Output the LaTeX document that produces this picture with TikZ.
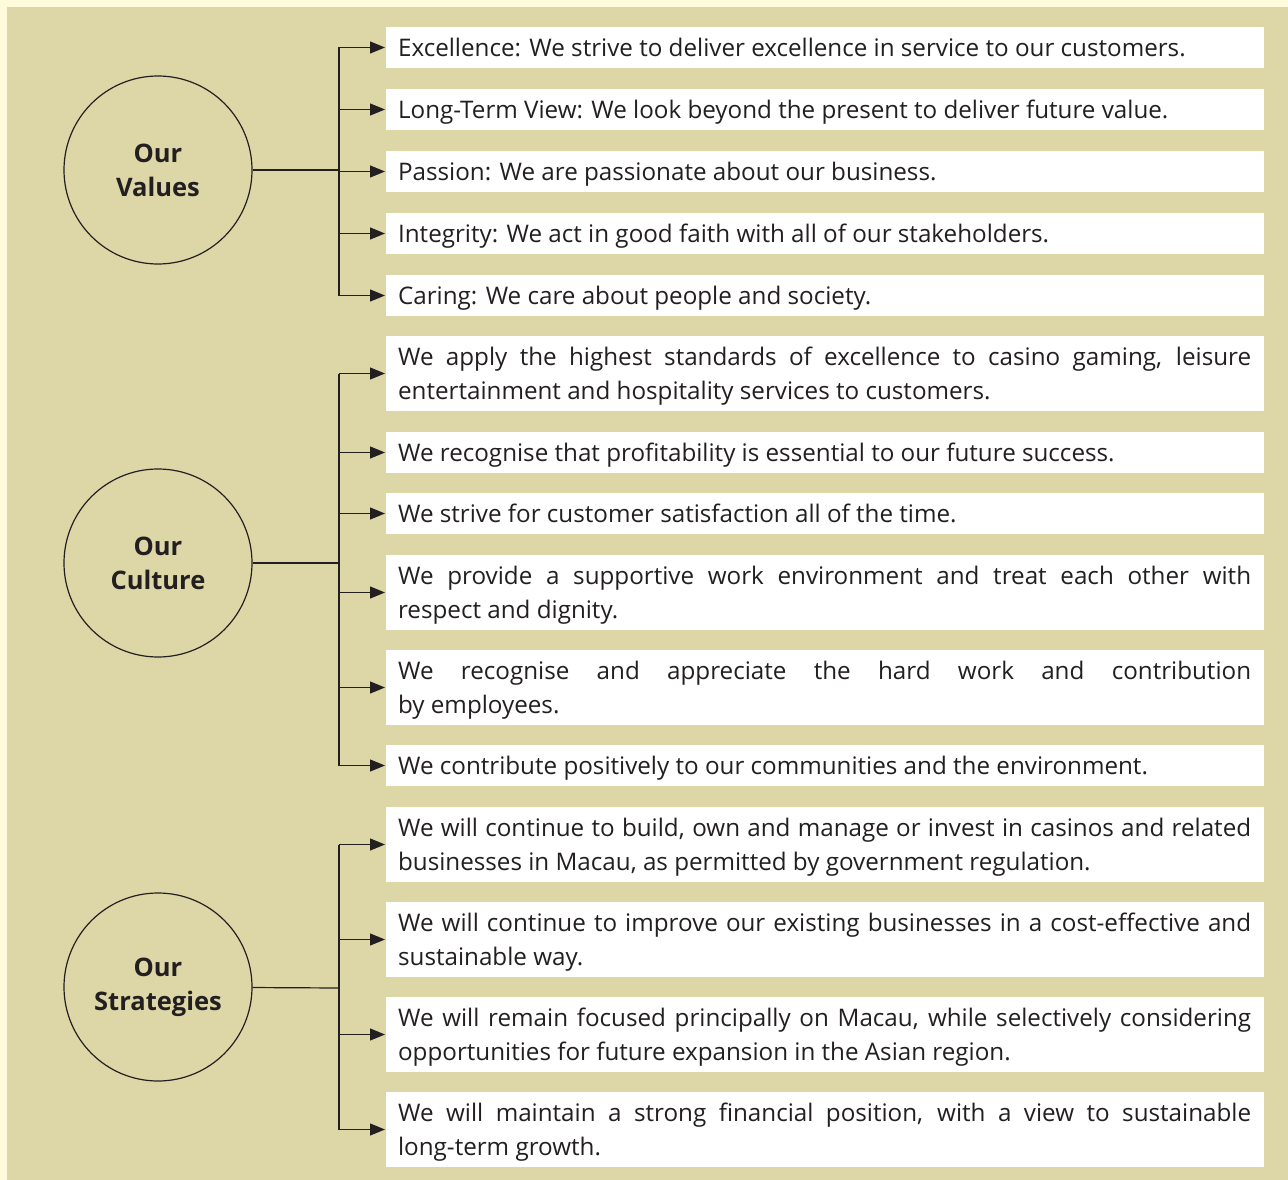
\documentclass[tikz,border=0pt]{standalone}
\usepackage{fontspec}
\setmainfont{Open Sans}
\usetikzlibrary{arrows.meta, calc}

\definecolor{cream}{HTML}{FFFBDA}
\definecolor{khaki}{HTML}{DDD6A7}
\definecolor{ink}{HTML}{231F20}
\newcommand\nohyph{\hyphenpenalty=10000 \exhyphenpenalty=10000\relax}

\begin{document}
\begin{tikzpicture}[x=1pt,y=-1pt,line width=1.2pt,draw=ink,text=ink]
  \tikzset{
    hub/.style={circle, draw=ink, line width=1.2pt, minimum size=188pt, inner sep=0pt,
      align=center, font=\fontsize{25.5}{34}\selectfont\bfseries},
    itembox/.style={fill=white, anchor=west, minimum width=878pt, text width=853pt,
      inner xsep=12.5pt, inner ysep=0pt, align=justify,
      font=\fontsize{24.2}{34}\selectfont\nohyph},
    one/.style={itembox, minimum height=41pt, text height=23pt, text depth=5pt},
    two/.style={itembox, minimum height=75pt, text height=23pt, text depth=39pt},
    arr/.style={-{Triangle[length=15pt,width=12pt]}, shorten >=0pt}
  }

  \fill[cream] (0,0) rectangle (1288,1180);
  \fill[khaki] (7,7) rectangle (1288,1180);
  \useasboundingbox (0,0) rectangle (1288,1180);

  % values
  \node[hub] (val) at (158,170) {Our\\Values};
  \node[one] (v1) at (385,47.5)  {Excellence: We strive to deliver excellence in service to our customers.};
  \node[one] (v2) at (385,109.5) {Long-Term View: We look beyond the present to deliver future value.};
  \node[one] (v3) at (385,171.5) {Passion: We are passionate about our business.};
  \node[one] (v4) at (385,233.5) {Integrity: We act in good faith with all of our stakeholders.};
  \node[one] (v5) at (385,295.5) {Caring: We care about people and society.};

  % culture
  \node[hub] (cul) at (158,563) {Our\\Culture};
  \node[two] (c1) at (385,373.5) {We apply the highest standards of excellence to casino gaming, leisure\linebreak entertainment and hospitality services to customers.};
  \node[one] (c2) at (385,452.5) {We recognise that profitability is essential to our future success.};
  \node[one] (c3) at (385,513.5) {We strive for customer satisfaction all of the time.};
  \node[two] (c4) at (385,592.5) {We provide a supportive work environment and treat each other with\linebreak respect and dignity.};
  \node[two] (c5) at (385,687.5) {We recognise and appreciate the hard work and contribution\linebreak by employees.};
  \node[one] (c6) at (385,765.5) {We contribute positively to our communities and the environment.};

  % strategies
  \node[hub] (str) at (158,987) {Our\\Strategies};
  \node[two] (s1) at (385,844.5)  {We will continue to build, own and manage or invest in casinos and related\linebreak businesses in Macau, as permitted by government regulation.};
  \node[two] (s2) at (385,939.5)  {We will continue to improve our existing businesses in a cost-effective and\linebreak sustainable way.};
  \node[two] (s3) at (385,1034.5) {We will remain focused principally on Macau, while selectively considering\linebreak opportunities for future expansion in the Asian region.};
  \node[two] (s4) at (385,1129.5) {We will maintain a strong financial position, with a view to sustainable\linebreak long-term growth.};

  % brackets
  \coordinate (vj) at (339,170);
  \coordinate (cj) at (339,563);
  \coordinate (sj) at (339,988);
  \draw (val) -- (vj);
  \draw (cul) -- (cj);
  \draw (str) -- (sj);
  \draw (vj |- v1.west) -- (vj |- v5.west);
  \draw (cj |- c1.west) -- (cj |- c6.west);
  \draw (sj |- s1.west) -- (sj |- s4.west);
  \foreach \n in {v1,v2,v3,v4,v5}
    \draw[arr] (vj |- \n.west) -- (\n.west);
  \foreach \n in {c1,c2,c3,c4,c5,c6}
    \draw[arr] (cj |- \n.west) -- (\n.west);
  \foreach \n in {s1,s2,s3,s4}
    \draw[arr] (sj |- \n.west) -- (\n.west);
\end{tikzpicture}
\end{document}
